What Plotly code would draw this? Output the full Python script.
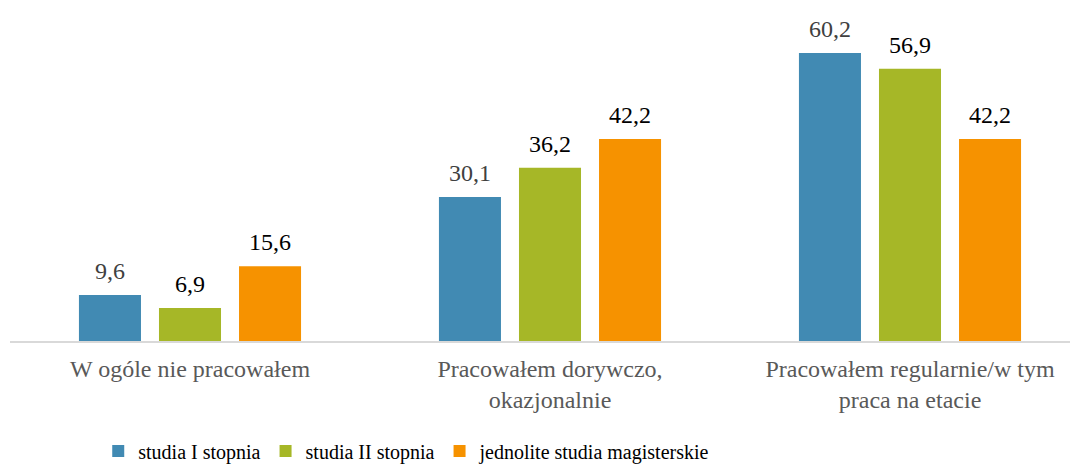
import plotly.graph_objects as go

categories = ["W ogóle nie pracowałem", "Pracowałem dorywczo,<br>okazjonalnie", "Pracowałem regularnie/w tym<br>praca na etacie"]
series_names = ["studia I stopnia", "studia II stopnia", "jednolite studia magisterskie"]
values_1 = [9.6, 30.1, 60.2]
values_2 = [6.9, 36.2, 56.9]
values_3 = [15.6, 42.2, 42.2]
colors = ["#418AB3", "#A6B727", "#F69200"]
label_colors = ["#404040", "#000000", "#000000"]

SERIF = "Liberation Serif, Times New Roman, serif"
BARGAP = 0.333
N = 3

def fmt(v):
    return f"{v:.1f}".replace(".", ",")

fig = go.Figure()
all_series = [values_1, values_2, values_3]
slot = (1 - BARGAP) / N
for i, (name, vals, col, lc) in enumerate(zip(series_names, all_series, colors, label_colors)):
    xs = list(range(len(categories)))
    fig.add_trace(go.Bar(
        x=xs, y=vals, name=name,
        marker=dict(color=col, line=dict(width=0)),
    ))
    off = (i - (N - 1) / 2) * slot
    for xv, v in zip(xs, vals):
        fig.add_annotation(
            x=xv + off, y=v, xref="x", yref="y", text=fmt(v), showarrow=False,
            yanchor="bottom", yshift=9,
            font=dict(family=SERIF, size=24, color=lc),
        )

fig.update_layout(
    width=1078, height=468,
    margin=dict(l=2, r=0, t=0, b=135, autoexpand=False),
    paper_bgcolor="white", plot_bgcolor="white",
    barmode="group", bargap=BARGAP, bargroupgap=0.225,
    showlegend=True,
    legend=dict(orientation="h", x=0.082, xanchor="left", y=-0.33, yanchor="middle",
                font=dict(family=SERIF, size=20, color="#000000"),
                itemwidth=30, traceorder="normal"),
    xaxis=dict(
        range=[-0.5, 2.4889], tickmode="array", tickvals=[0, 1, 2], ticktext=categories,
        showline=True, linecolor="#d9d9d9", linewidth=2, showgrid=False, zeroline=False,
        ticks="", automargin=False, ticklabelstandoff=5,
        tickfont=dict(family=SERIF, size=24, color="#595959"),
    ),
    yaxis=dict(range=[0, 69.6], visible=False, showgrid=False, zeroline=False),
)

fig.write_html("out.html")
